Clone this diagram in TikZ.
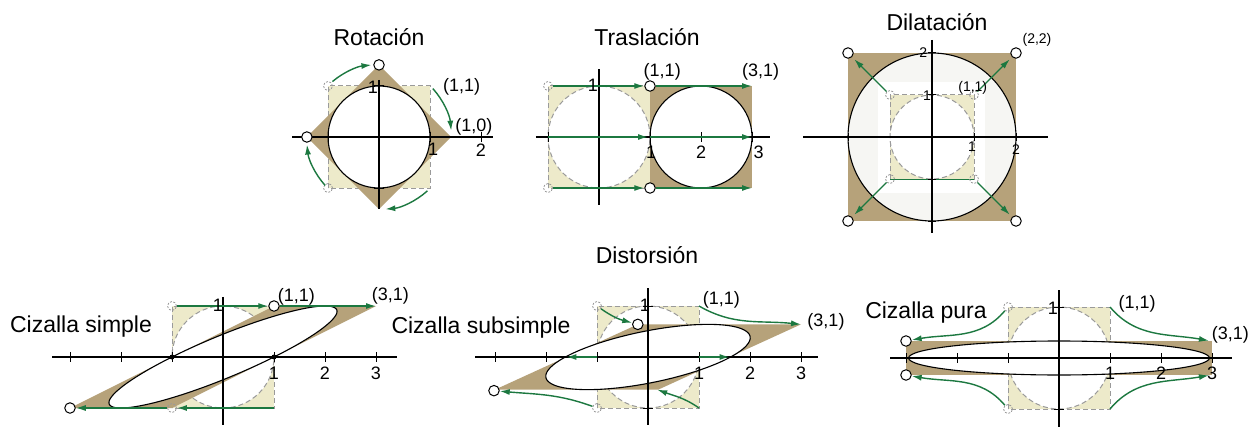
\documentclass[tikz,border=0pt]{standalone}
\usepackage{fontspec}
\setmainfont{Liberation Sans}
\usetikzlibrary{arrows.meta}
\definecolor{tanc}{HTML}{B6A27A}
\definecolor{paley}{HTML}{EDEACA}
\definecolor{grn}{HTML}{1C7840}
\definecolor{dg}{HTML}{9A9A9A}
\definecolor{lightc}{HTML}{F6F6F3}
\tikzset{
 axisl/.style={black,line width=1.1pt},
 tk/.style={black,line width=1pt},
 ysq/.style={fill=paley,draw=dg,dash pattern=on 5pt off 3pt,line width=1pt},
 dcirc/.style={fill=white,draw=dg,dash pattern=on 5pt off 3pt,line width=1pt},
 ell/.style={fill=white,draw=black,line width=1.1pt},
 garr/.style={draw=grn,line width=1.4pt,-{Latex[length=10pt,width=6pt]}},
 opc/.style={circle,draw=black,fill=white,line width=1pt,inner sep=0pt,minimum size=10.5pt},
 dpc/.style={circle,draw=dg,dash pattern=on 2pt off 1.5pt,line width=0.8pt,inner sep=0pt,minimum size=9pt},
 lab/.style={font=\fontsize{18}{18}\selectfont,inner sep=0pt},
 slab/.style={font=\fontsize{14}{14}\selectfont,inner sep=0pt},
 ttl/.style={font=\fontsize{23}{23}\selectfont,inner sep=0pt},
}
\begin{document}
\begin{tikzpicture}[x=1pt,y=-1pt]
\useasboundingbox (0,0) rectangle (1259,428);
\fill[white] (0,0) rectangle (1259,428);

% titles
\node[ttl] (t1) at (379,37) {Rotación};
\node[ttl] (t2) at (647,37) {Traslación};
\node[ttl] (t3) at (937,22) {Dilatación};
\node[ttl] (t4) at (647,255) {Distorsión};
\node[ttl] (t5) at (81,327) {Cizalla simple};
\node[ttl] (t6) at (481,328) {Cizalla subsimple};
\node[ttl] (t7) at (926,313) {Cizalla pura};

% ---------- Rotacion ----------
\begin{scope}[shift={(379,137)},x=51pt,y=51pt]
 \draw[ysq] (-1,-1) rectangle (1,1);
 \fill[tanc] (0,1.414)--(1.414,0)--(0,-1.414)--(-1.414,0)--cycle;
 \draw[ell] (0,0) circle[radius=1];
 \draw[axisl] (-1.7,0)--(2.24,0);
 \draw[axisl] (0,1.12)--(0,-1.42);
 \foreach \k in {-1,1,2} \draw[tk] (\k,-0.09)--(\k,0.09);
 \foreach \k in {-1,1} \draw[tk] (-0.09,\k)--(0.09,\k);
 \node[dpc] (ra) at (-1,1) {};
 \node[dpc] (rb) at (-1,-1) {};
 \node[opc] (rc) at (0,1.414) {};
 \node[opc] (rd) at (-1.414,0) {};
 \draw[garr] (130:1.42) arc[start angle=130,end angle=96,radius=1.42];
 \draw[garr] (42:1.42) arc[start angle=42,end angle=5,radius=1.42];
 \draw[garr] (-48:1.42) arc[start angle=-48,end angle=-85,radius=1.42];
 \draw[garr] (-138:1.42) arc[start angle=-138,end angle=-174,radius=1.42];
 \node[lab] (rl1) at (1.06,-0.24) {1};
 \node[lab] (rl2) at (2,-0.26) {2};
 \node[lab] (rl3) at (-0.12,0.98) {1};
 \node[lab] (rl4) at (1.62,0.98) {(1,1)};
 \node[lab] (rl5) at (1.86,0.2) {(1,0)};
\end{scope}

% ---------- Traslacion ----------
\begin{scope}[shift={(599,137)},x=51pt,y=51pt]
 \draw[ysq] (-1,-1) rectangle (1,1);
 \draw[dcirc] (0,0) circle[radius=1];
 \fill[tanc] (1,-1) rectangle (3,1);
 \draw[ell] (2,0) circle[radius=1];
 \draw[axisl] (-1.24,0)--(3.35,0);
 \draw[axisl] (0,1.33)--(0,-1.33);
 \foreach \k in {-1,1,2,3} \draw[tk] (\k,-0.09)--(\k,0.09);
 \foreach \k in {-1,1} \draw[tk] (-0.09,\k)--(0.09,\k);
 \node[dpc] (ta) at (-1,1) {};
 \node[dpc] (tb) at (-1,-1) {};
 \node[opc] (tc) at (1,1) {};
 \node[opc] (td) at (1,-1) {};
 \coordinate (te) at (3,1);
 \coordinate (tf) at (3,-1);
 \coordinate (tg) at (-1,0);
 \coordinate (th) at (1,0);
 \coordinate (ti) at (3,0);
 \draw[garr] (ta)--(tc);
 \draw[garr] (tc)--(te);
 \draw[garr] (tb)--(td);
 \draw[garr] (td)--(tf);
 \draw[garr,shorten >=2pt] (tg)--(th);
 \draw[garr] (th)--(ti);
 \node[lab] (tl1) at (1.24,1.27) {(1,1)};
 \node[lab] (tl2) at (3.17,1.27) {(3,1)};
 \node[lab] (tl3) at (-0.12,1.02) {1};
 \node[lab] (tl4) at (1.02,-0.3) {1};
 \node[lab] (tl5) at (2,-0.3) {2};
 \node[lab] (tl6) at (3.13,-0.3) {3};
\end{scope}

% ---------- Dilatacion ----------
\begin{scope}[shift={(932,137)},x=42pt,y=42pt]
 \fill[tanc] (-2,-2) rectangle (2,2);
 \draw[fill=lightc,draw=black,line width=1.1pt] (0,0) circle[radius=2];
 \fill[white] (-1.29,-1.33) rectangle (1.26,1.31);
 \draw[ysq] (-1,-1) rectangle (1,1);
 \draw[dcirc] (0,0) circle[radius=1];
 \draw[grn,line width=0.8pt] (-1,-1)--(1,-1);
 \draw[axisl] (-3.07,0)--(2.76,0);
 \draw[axisl] (0,2.31)--(0,-2.29);
 \foreach \k in {-2,1,2} \draw[tk] (\k,-0.09)--(\k,0.09);
 \foreach \k in {-2,-1,1,2} \draw[tk] (-0.09,\k)--(0.09,\k);
 \node[dpc] (da) at (-1,1) {};
 \node[dpc] (db) at (1,1) {};
 \node[dpc] (dc) at (-1,-1) {};
 \node[dpc] (dd) at (1,-1) {};
 \node[opc] (de) at (-2,2) {};
 \node[opc] (df) at (2,2) {};
 \node[opc] (dg) at (-2,-2) {};
 \node[opc] (dh) at (2,-2) {};
 \draw[garr,shorten >=3pt] (da)--(de);
 \draw[garr,shorten >=3pt] (db)--(df);
 \draw[garr,shorten >=3pt] (dc)--(dg);
 \draw[garr,shorten >=3pt] (dd)--(dh);
 \node[slab] (dl1) at (2.5,2.31) {(2,2)};
 \node[slab] (dl2) at (0.97,1.16) {(1,1)};
 \node[slab] (dl3) at (-0.21,2.0) {2};
 \node[slab] (dl4) at (-0.12,0.98) {1};
 \node[slab] (dl5) at (0.95,-0.23) {1};
 \node[slab] (dl6) at (2.0,-0.3) {2};
\end{scope}

% ---------- Cizalla simple ----------
\begin{scope}[shift={(223,357)},x=51pt,y=51pt]
 \draw[ysq] (-1,-1) rectangle (1,1);
 \draw[dcirc] (0,0) circle[radius=1];
 \fill[tanc] (-3,-1)--(-1,-1)--(3,1)--(1,1)--cycle;
 \draw[ell] plot[domain=0:360,samples=145,variable=\t] ({cos(\t)+2*sin(\t)},{sin(\t)})--cycle;
 \draw[axisl] (-3.35,0)--(3.41,0);
 \draw[axisl] (0,1.18)--(0,-1.33);
 \foreach \k in {-3,-2,-1,1,2,3} \draw[tk] (\k,-0.09)--(\k,0.09);
 \foreach \k in {-1,1} \draw[tk] (-0.09,\k)--(0.09,\k);
 \fill (-1,0) circle[radius=2.5pt];
 \fill (1,0) circle[radius=2.5pt];
 \node[dpc] (sa) at (-1,1) {};
 \node[dpc] (sb) at (-1,-1) {};
 \node[opc] (sc) at (1,1) {};
 \node[opc] (sd) at (-3,-1) {};
 \coordinate (se) at (3,1);
 \coordinate (sf) at (1,-1);
 \draw[garr] (sa)--(sc);
 \draw[garr] (sc)--(se);
 \draw[garr] (sf)--(sb);
 \draw[garr] (sb)--(sd);
 \node[lab] (sl1) at (1.44,1.18) {(1,1)};
 \node[lab] (sl2) at (3.28,1.2) {(3,1)};
 \node[lab] (sl3) at (-0.1,1.02) {1};
 \node[lab] (sl4) at (1,-0.31) {1};
 \node[lab] (sl5) at (2,-0.31) {2};
 \node[lab] (sl6) at (3,-0.31) {3};
\end{scope}

% ---------- Cizalla subsimple ----------
\begin{scope}[shift={(648,357)},x=51pt,y=51pt]
 \draw[ysq] (-1,-1) rectangle (1,1);
 \draw[dcirc] (0,0) circle[radius=1];
 \fill[tanc] (-3,-0.64)--(0.2,-0.64)--(3,0.64)--(-0.2,0.64)--cycle;
 \draw[ell] plot[domain=0:360,samples=145,variable=\t] ({1.62*cos(\t)+1.18*sin(\t)},{0.64*sin(\t)})--cycle;
 \draw[axisl] (-3.39,0)--(3.33,0);
 \draw[axisl] (0,1.35)--(0,-1.33);
 \foreach \k in {-3,-2,-1,1,2,3} \draw[tk] (\k,-0.09)--(\k,0.09);
 \foreach \k in {-1,1} \draw[tk] (-0.09,\k)--(0.09,\k);
 \node[dpc] (ua) at (-1,1) {};
 \node[dpc] (ub) at (-1,-1) {};
 \node[opc] (uc) at (-0.2,0.64) {};
 \node[opc] (ud) at (-3.02,-0.66) {};
 \coordinate (ue) at (1,1);
 \coordinate (uf) at (3,0.64);
 \coordinate (ug) at (1,-1);
 \coordinate (uh) at (0.18,-0.64);
 \coordinate (ui) at (-1,0);
 \coordinate (uj) at (-1.6,0);
 \coordinate (uk) at (1,0);
 \coordinate (ul) at (1.6,0);
 \draw[garr] (ua) to[out=-35,in=165] (uc);
 \draw[garr] (ue) to[out=-30,in=174] (uf);
 \draw[garr] (ub) to[out=160,in=-5] (ud);
 \draw[garr] (ug) to[out=145,in=-20] (uh);
 \draw[garr] (ui)--(uj);
 \draw[garr] (uk)--(ul);
 \node[lab] (ul1) at (1.44,1.12) {(1,1)};
 \node[lab] (ul2) at (3.49,0.69) {(3,1)};
 \node[lab] (ul3) at (-0.06,1.02) {1};
 \node[lab] (ul4) at (1,-0.31) {1};
 \node[lab] (ul5) at (2,-0.31) {2};
 \node[lab] (ul6) at (3,-0.31) {3};
\end{scope}

% ---------- Cizalla pura ----------
\begin{scope}[shift={(1059,358)},x=51pt,y=51pt]
 \draw[ysq] (-1,-1) rectangle (1,1);
 \draw[dcirc] (0,0) circle[radius=1];
 \fill[tanc] (-3,-0.3333) rectangle (3,0.3333);
 \draw[ell] (0,0) ellipse[x radius=2.95,y radius=0.3333];
 \draw[axisl] (-3.31,0)--(3.39,0);
 \draw[axisl] (0,1.33)--(0,-1.35);
 \foreach \k in {-3,-2,-1,1,2,3} \draw[tk] (\k,-0.09)--(\k,0.09);
 \foreach \k in {-1,1} \draw[tk] (-0.09,\k)--(0.09,\k);
 \node[dpc] (pa) at (-1,1) {};
 \node[dpc] (pb) at (-1,-1) {};
 \node[opc] (pc) at (-3,0.3333) {};
 \node[opc] (pd) at (-3,-0.3333) {};
 \coordinate (pe) at (1,1);
 \coordinate (pf) at (2.94,0.34);
 \coordinate (pg) at (1,-1);
 \coordinate (ph) at (2.94,-0.34);
 \draw[garr] (pe) to[out=-50,in=170] (pf);
 \draw[garr] (pa) to[out=-130,in=10] (pc);
 \draw[garr] (pg) to[out=50,in=190] (ph);
 \draw[garr] (pb) to[out=130,in=-10] (pd);
 \node[lab] (pl1) at (1.53,1.07) {(1,1)};
 \node[lab] (pl2) at (3.36,0.45) {(3,1)};
 \node[lab] (pl3) at (-0.12,0.98) {1};
 \node[lab] (pl4) at (1,-0.3) {1};
 \node[lab] (pl5) at (2,-0.3) {2};
 \node[lab] (pl6) at (3,-0.3) {3};
\end{scope}
\end{tikzpicture}
\end{document}
